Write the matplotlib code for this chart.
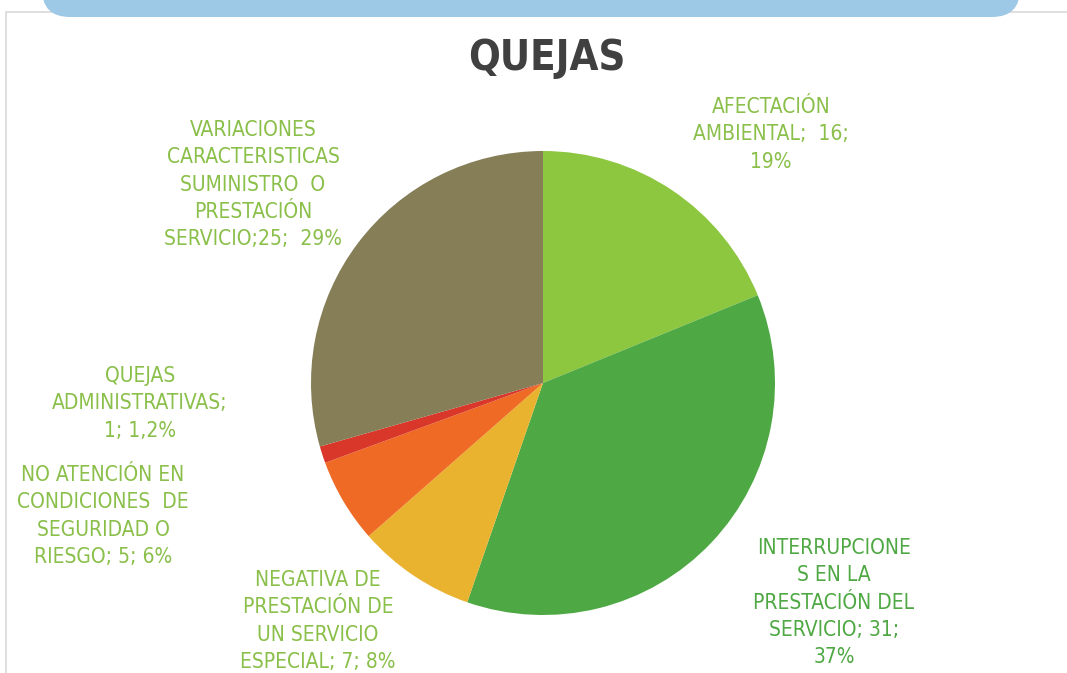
import matplotlib.pyplot as plt
from matplotlib.patches import FancyBboxPatch, Rectangle

# data
categorias = ["AFECTACIÓN AMBIENTAL", "INTERRUPCIONES EN LA PRESTACIÓN DEL SERVICIO",
              "NEGATIVA DE PRESTACIÓN DE UN SERVICIO ESPECIAL",
              "NO ATENCIÓN EN CONDICIONES DE SEGURIDAD O RIESGO",
              "QUEJAS ADMINISTRATIVAS",
              "VARIACIONES CARACTERISTICAS SUMINISTRO O PRESTACIÓN SERVICIO"]
valores = [16, 31, 7, 5, 1, 25]
etiquetas = [
    "AFECTACIÓN\nAMBIENTAL;  16;\n19%",
    "INTERRUPCIONE\nS EN LA\nPRESTACIÓN DEL\nSERVICIO; 31;\n37%",
    "NEGATIVA DE\nPRESTACIÓN DE\nUN SERVICIO\nESPECIAL; 7; 8%",
    "NO ATENCIÓN EN\nCONDICIONES  DE\nSEGURIDAD O\nRIESGO; 5; 6%",
    "QUEJAS\nADMINISTRATIVAS;\n1; 1,2%",
    "VARIACIONES\nCARACTERISTICAS\nSUMINISTRO  O\nPRESTACIÓN\nSERVICIO;25;  29%",
]
colores = ["#8dc63f", "#4ea843", "#e9b22f", "#ee6a25", "#d8372a", "#857e57"]
colores_texto = ["#8abf4a", "#4fa843", "#8abf4a", "#8abf4a", "#8abf4a", "#8abf4a"]
# label centre (x, y of first line) in pixels from top-left
pos_etiquetas = [(771, 107), (834, 548), (318, 580), (103, 475), (140, 376), (253, 130)]

W, H = 1067, 673
fig = plt.figure(figsize=(W / 100, H / 100), dpi=100)
ax = fig.add_axes([0, 0, 1, 1])

# chart frame
ax.add_patch(Rectangle((6, -10), W, H - 12 + 10, fill=False, edgecolor="#d9d9d9", lw=1.2))
# blue banner on top (only its lower part is visible)
ax.add_patch(FancyBboxPatch((42 + 28, H - 17 + 28), 978 - 56, 50,
                            boxstyle="round,pad=28", facecolor="#9dc8e6", edgecolor="none"))

ax.pie(valores, colors=colores, startangle=90, counterclock=False,
       center=(543, H - 383), radius=232, frame=True,
       wedgeprops=dict(linewidth=0))
ax.set_xlim(0, W)
ax.set_ylim(0, H)
ax.set_aspect("equal")
ax.axis("off")

ax.text(547, H - 58, "QUEJAS", ha="center", va="center", fontsize=30,
        fontweight="bold", color="#404040", family="DejaVu Sans", fontstretch="condensed")

for txt, col, (x, y) in zip(etiquetas, colores_texto, pos_etiquetas):
    ax.text(x, H - y + 10, txt, ha="center", va="top", multialignment="center",
            fontsize=15, color=col, linespacing=1.46,
            family="DejaVu Sans", fontstretch="condensed")

fig.savefig("out.png", dpi=100)
